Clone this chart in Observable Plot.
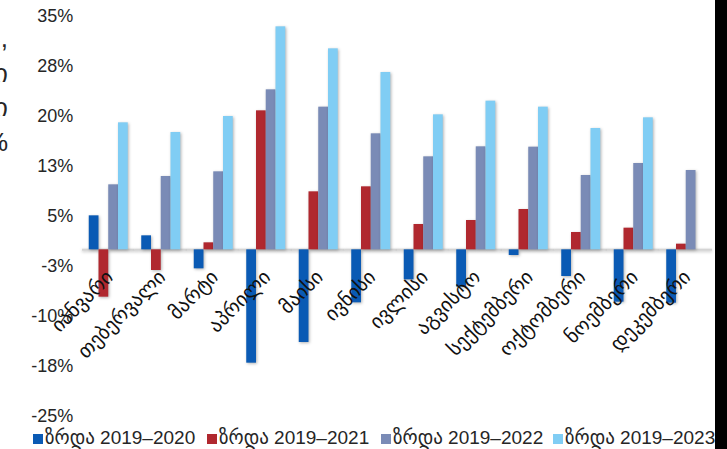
<!DOCTYPE html>
<html>
<head>
<meta charset="utf-8">
<script src="https://cdn.jsdelivr.net/npm/d3@7"></script>
<script src="https://cdn.jsdelivr.net/npm/@observablehq/plot@0.6"></script>
<style>
  html, body { margin: 0; padding: 0; background: #000; }
  #page { position: relative; width: 715px; height: 449px; background: #fff; overflow: hidden;
          font-family: "Liberation Sans", Arial, "DejaVu Sans", sans-serif; color: #262626; }
  #ytitle { position: absolute; left: -292px; top: 21px; width: 300px; text-align: right;
            font-size: 26px; line-height: 34.7px; white-space: pre; color: #262626; }
  #chart svg g[aria-label="bar"] rect { filter: drop-shadow(1.5px 1.5px 1.5px rgba(0,0,0,0.3)); }
  #chart svg g[aria-label="rule"] line { filter: drop-shadow(0px 1.5px 1.5px rgba(0,0,0,0.25)); }
  #legend { position: relative; height: 21px; font-size: 19px; }
  .item { position: absolute; top: -1px; white-space: nowrap; line-height: 21px; }
  .sw { display: inline-block; width: 10px; height: 10px; margin-right: 2px; vertical-align: 0px; }
</style>
</head>
<body>
<div id="page">
  <div id="ytitle"></div>
  <div id="chart"></div>
  <div id="legend"></div>
</div>
<script>
const months = ["იანვარი","თებერვალი","მარტი","აპრილი","მაისი","ივნისი","ივლისი","აგვისტო","სექტემბერი","ოქტომბერი","ნოემბერი","დეკემბერი"];
const seriesNames = ["ზრდა 2019–2020","ზრდა 2019–2021","ზრდა 2019–2022","ზრდა 2019–2023"];
const colors = ["#0A5AB4","#B0282F","#7A8BB6","#80CDF4"];
const s2020 = [5.1, 2.1, -2.85, -17.0, -13.9, -7.95, -4.5, -5.6, -0.85, -4.0, -7.85, -8.0];
const s2021 = [-7.1, -3.1, 1.05, 20.85, 8.7, 9.45, 3.8, 4.4, 6.05, 2.6, 3.25, 0.85];
const s2022 = [9.75, 11.0, 11.7, 24.0, 21.4, 17.4, 13.95, 15.45, 15.4, 11.15, 12.95, 11.9];
const s2023 = [19.05, 17.6, 20.0, 33.45, 30.15, 26.6, 20.25, 22.3, 21.4, 18.2, 19.8, null];
const yTicks = [-25, -17.5, -10, -2.5, 5, 12.5, 20, 27.5, 35];
const yTickLabels = ["-25%","-18%","-10%","-3%","5%","13%","20%","28%","35%"];
const yTitleLines = ["ზრდა,", "თვიური", "მონაცემი", "%"];

const seriesValues = [s2020, s2021, s2022, s2023];
const rows = months.flatMap((m, i) =>
  seriesValues.map((arr, j) => ({month: m, series: seriesNames[j], value: arr[i]}))
).filter(d => d.value != null);

document.getElementById("ytitle").textContent = yTitleLines.join("\n");

const chart = Plot.plot({
  width: 715,
  height: 428,
  marginLeft: 82,
  marginRight: 3,
  marginTop: 16,
  marginBottom: 12,
  style: {fontFamily: '"Liberation Sans", Arial, "DejaVu Sans", sans-serif', fontSize: "18px", color: "#262626", background: "transparent", overflow: "visible"},
  fx: {domain: months, paddingInner: 0.257, paddingOuter: 0.1285, round: false, axis: null, label: null},
  x: {domain: seriesNames, padding: 0, round: false, axis: null},
  y: {domain: [-25, 35], ticks: yTicks, tickFormat: d => yTickLabels[yTicks.indexOf(d)], tickSize: 0, tickPadding: 16, label: null},
  color: {domain: seriesNames, range: colors},
  marks: [
    Plot.ruleY([0], {stroke: "#d4d4d4", strokeWidth: 2, insetLeft: -6.75, insetRight: -6.75}),
    Plot.barY(rows, {fx: "month", x: "series", y: "value", fill: "series", inset: 0}),
    Plot.text(months, {fx: d => d, y: () => 0, text: d => d, rotate: -45, textAnchor: "end", dx: 1, dy: 24, fontSize: 20, fill: "#111"})
  ]
});
document.getElementById("chart").appendChild(chart);

const legend = document.getElementById("legend");
const legendLeft = [33, 207, 381, 553];
seriesNames.forEach((name, i) => {
  const item = document.createElement("div");
  item.className = "item";
  item.style.left = legendLeft[i] + "px";
  const sw = document.createElement("span");
  sw.className = "sw";
  sw.style.background = colors[i];
  item.appendChild(sw);
  item.appendChild(document.createTextNode(name));
  legend.appendChild(item);
});
</script>
</body>
</html>
